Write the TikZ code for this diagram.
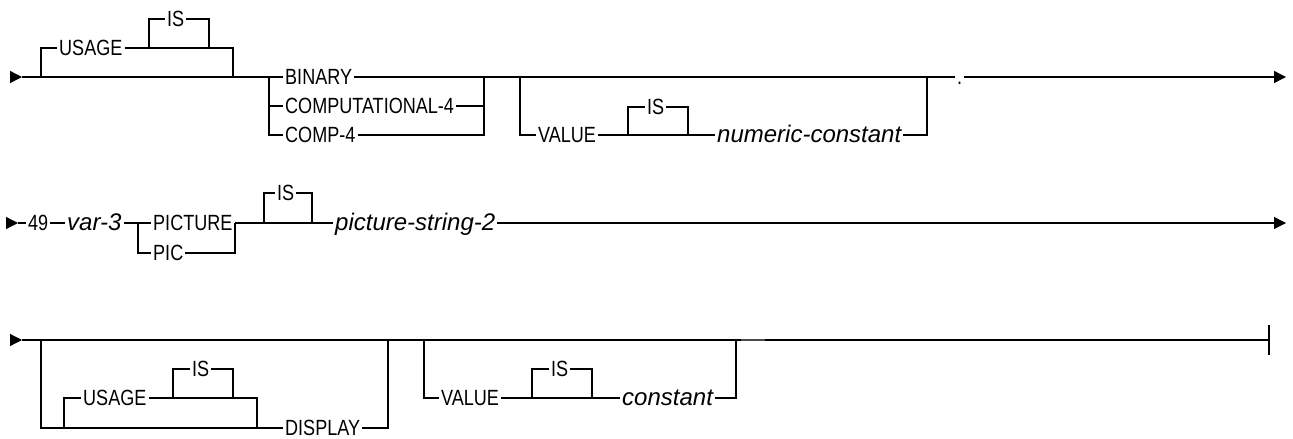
\documentclass[tikz,border=0pt]{standalone}
\usepackage{fontspec}
\usepackage{tikz}
\usetikzlibrary{arrows.meta}
\newfontfamily\kwfamily{Liberation Sans}[FakeStretch=0.82]
\newfontfamily\varfamily{Liberation Sans}
\newcommand\kwfont{\kwfamily\fontsize{22}{22}\selectfont}
\newcommand\varfont{\varfamily\itshape\fontsize{24}{24}\selectfont}

\begin{document}
\begin{tikzpicture}[x=1pt,y=-1pt,
  rail/.style={line width=1.3pt},
  kw/.style={font=\kwfont,anchor=west,inner xsep=2pt,inner ysep=0pt,text height=15.5pt,text depth=0pt},
  var/.style={kw,font=\varfont},
  ea/.style={rail,-{Triangle[length=12pt,width=12pt]}},
  eb/.style={rail,-{Bar[width=30pt,line width=2pt]}}
]
\useasboundingbox (0,0) rectangle (1293,439);
%--- row 1: USAGE ... VALUE numeric-constant . ---
\coordinate (r1tri) at (10,77);
\coordinate (r1s) at (22,77);
\coordinate (r1a) at (41,77);
\coordinate (r1b) at (233,77);
\coordinate (r1c) at (269,77);
\coordinate (r1d) at (484,77);
\coordinate (r1e) at (520,77);
\coordinate (r1f) at (927,77);
\coordinate (r1t) at (1286,77);
\coordinate (i1a) at (149,48);
\coordinate (i1b) at (209,48);
\coordinate (i2a) at (628,135);
\coordinate (i2b) at (688,135);
\node[kw] (usage1) at (57,48){USAGE};
\node[kw] (is1) at (165,19){IS};
\node[kw] (bin) at (283,77){BINARY};
\node[kw] (comp4l) at (283,106){COMPUTATIONAL-4};
\node[kw] (comp4) at (283,135){COMP-4};
\node[kw] (val1) at (536,135){VALUE};
\node[kw] (is2) at (645,107){IS};
\node[var] (numc) at (715,135){numeric-constant};
\node[kw] (dot) at (955,77){.};
\draw[ea] (r1tri)--(r1s);
\draw[rail] (r1s)--(bin.west); \draw[rail] (bin.east)--(dot.west);
\draw[rail] (r1a)|-(usage1.west); \draw[rail] (usage1.east)-|(r1b);
\draw[rail] (i1a)|-(is1.west); \draw[rail] (is1.east)-|(i1b);
\draw[rail] (r1c)|-(comp4l.west); \draw[rail] (r1c)|-(comp4.west);
\draw[rail] (comp4l.east)-|(r1d); \draw[rail] (comp4.east)-|(r1d);
\draw[rail] (r1e)|-(val1.west); \draw[rail] (val1.east)--(numc.west);
\draw[rail] (i2a)|-(is2.west); \draw[rail] (is2.east)-|(i2b);
\draw[rail] (numc.east)-|(r1f);
\draw[ea] (dot.east)--(r1t);
%--- row 2: 49 var-3 PICTURE IS picture-string-2 ---
\coordinate (r2tri) at (6,223);
\coordinate (r2s) at (18,223);
\coordinate (r2a) at (138,223);
\coordinate (r2b) at (235,223);
\coordinate (i3a) at (264,223);
\coordinate (i3b) at (312,223);
\coordinate (r2t) at (1286,223);
\node[kw] (n49) at (26,223){49};
\node[var] (var3) at (65,223){var-3};
\node[kw] (pict) at (151,223){PICTURE};
\node[kw] (pic) at (151,253){PIC};
\node[kw] (is3) at (275,193){IS};
\node[var] (pstr) at (333,223){picture-string-2};
\draw[ea] (r2tri)--(r2s);
\draw[rail] (r2s)--(n49.west); \draw[rail] (n49.east)--(var3.west);
\draw[rail] (var3.east)--(pict.west); \draw[rail] (pict.east)--(pstr.west);
\draw[rail] (r2a)|-(pic.west); \draw[rail] (pic.east)-|(r2b);
\draw[rail] (i3a)|-(is3.west); \draw[rail] (is3.east)-|(i3b);
\draw[ea] (pstr.east)--(r2t);
%--- row 3: USAGE IS DISPLAY, VALUE IS constant ---
\coordinate (r3tri) at (10,340);
\coordinate (r3s) at (22,340);
\coordinate (r3a) at (41,340);
\coordinate (r3b) at (388,340);
\coordinate (r3c) at (424,340);
\coordinate (r3d) at (736,340);
\coordinate (r3t) at (1270,340);
\coordinate (u3a) at (64,428);
\coordinate (u3b) at (257,428);
\coordinate (i4a) at (173,398);
\coordinate (i4b) at (233,398);
\coordinate (i5a) at (532,398);
\coordinate (i5b) at (592,398);
\coordinate (g1) at (741,339.5);
\coordinate (g2) at (765,339.5);
\node[kw] (usage3) at (81,398){USAGE};
\node[kw] (is4) at (190,369){IS};
\node[kw] (disp) at (283,428){DISPLAY};
\node[kw] (val3) at (439,398){VALUE};
\node[kw] (is5) at (549,369){IS};
\node[var] (const) at (620,398){constant};
\draw[ea] (r3tri)--(r3s);
\draw[eb] (r3s)--(r3t);
\draw[rail] (r3a)|-(disp.west); \draw[rail] (disp.east)-|(r3b);
\draw[rail] (u3a)|-(usage3.west); \draw[rail] (usage3.east)-|(u3b);
\draw[rail] (i4a)|-(is4.west); \draw[rail] (is4.east)-|(i4b);
\draw[rail] (r3c)|-(val3.west); \draw[rail] (val3.east)--(const.west);
\draw[rail] (i5a)|-(is5.west); \draw[rail] (is5.east)-|(i5b);
\draw[rail] (const.east)-|(r3d);
\draw[gray!60!black,line width=2pt] (g1)--(g2);
\end{tikzpicture}
\end{document}
